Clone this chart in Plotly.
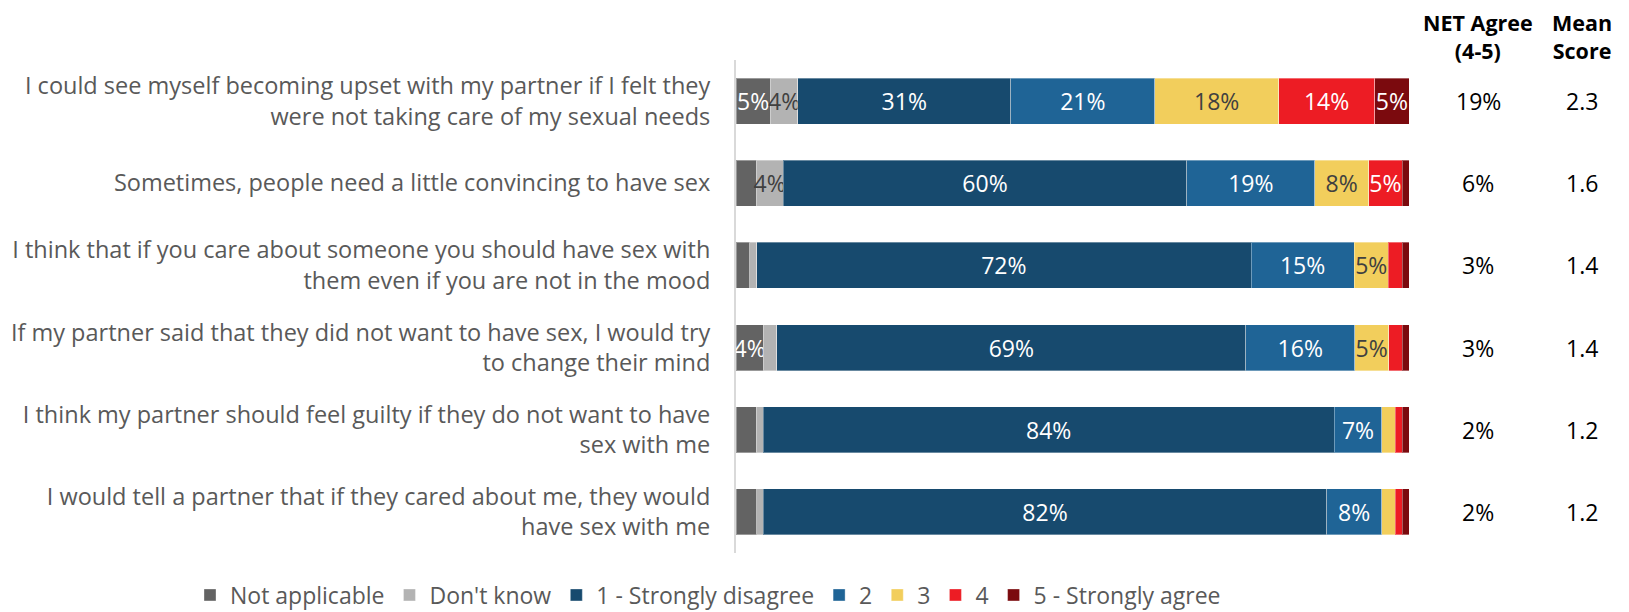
import plotly.graph_objects as go

categories = [
    "I could see myself becoming upset with my partner if I felt they<br>were not taking care of my sexual needs",
    "Sometimes, people need a little convincing to have sex",
    "I think that if you care about someone you should have sex with<br>them even if you are not in the mood",
    "If my partner said that they did not want to have sex, I would try<br>to change their mind",
    "I think my partner should feel guilty if they do not want to have<br>sex with me",
    "I would tell a partner that if they cared about me, they would<br>have sex with me",
]

series_names = ["Not applicable", "Don't know", "1 - Strongly disagree", "2", "3", "4", "5 - Strongly agree"]
not_applicable = [5, 3, 2, 4, 3, 3]
dont_know = [4, 4, 1, 2, 1, 1]
strongly_disagree = [31, 60, 72, 69, 84, 82]
two = [21, 19, 15, 16, 7, 8]
three = [18, 8, 5, 5, 2, 2]
four = [14, 5, 2, 2, 1, 1]
strongly_agree = [5, 1, 1, 1, 1, 1]

net_agree = ["19%", "6%", "3%", "3%", "2%", "2%"]
mean_score = ["2.3", "1.6", "1.4", "1.4", "1.2", "1.2"]

series_values = [not_applicable, dont_know, strongly_disagree, two, three, four, strongly_agree]
colors = ["#636363", "#b3b3b3", "#174a6e", "#1f6496", "#f2ce5c", "#ed1c24", "#7b0a0e"]
text_colors = ["#ffffff", "#404040", "#ffffff", "#ffffff", "#404040", "#ffffff", "#ffffff"]

FONT = "Open Sans"
fig = go.Figure()
for name, vals, col, tcol in zip(series_names, series_values, colors, text_colors):
    fig.add_trace(go.Bar(
        y=categories, x=vals, name=name, orientation="h",
        marker=dict(color=col, line=dict(color="rgba(255,255,255,0.35)", width=1)),
        text=[f"{v}%" if v >= 4 else "" for v in vals],
        textposition="inside", insidetextanchor="middle", textangle=0,
        textfont=dict(color=tcol, size=23, family=FONT),
        hoverinfo="skip",
    ))

# page body has an 8px margin, so figure coordinates are shifted by 8px
OFF = 8
W, H = 1629 - OFF, 612 - OFF
L, R, T, B = 736 - OFF, 1409 - OFF, 60 - OFF, 553 - OFF
fig.update_layout(
    width=W, height=H,
    barmode="stack", barnorm="percent", bargap=0.44,
    margin=dict(l=L, r=W - R, t=T, b=H - B, pad=0, autoexpand=False),
    plot_bgcolor="white", paper_bgcolor="white",
    font=dict(family=FONT, size=23, color="#595959"),
    uniformtext=dict(minsize=23, mode="show"),
    showlegend=True,
    legend=dict(orientation="h", xref="paper", yref="paper",
                x=(190 - OFF - L) / (R - L), xanchor="left",
                y=(B - (595 - OFF)) / (B - T), yanchor="middle",
                font=dict(size=23, color="#595959", family=FONT),
                traceorder="normal", itemwidth=30, tracegroupgap=0),
)
fig.update_xaxes(range=[0, 100], visible=False, fixedrange=True)
fig.update_yaxes(autorange="reversed", showline=True, linecolor="#d9d9d9", linewidth=2,
                 ticks="", ticklabelstandoff=19, showgrid=False, automargin=False,
                 tickfont=dict(size=23.5, color="#595959", family=FONT))

x_net = (1478 - OFF - L) / (R - L)
x_mean = (1582 - OFF - L) / (R - L)
for cat, n, m in zip(categories, net_agree, mean_score):
    fig.add_annotation(x=x_net, xref="paper", y=cat, yref="y", text=n, showarrow=False,
                       xanchor="center", font=dict(size=23, color="#000000", family=FONT))
    fig.add_annotation(x=x_mean, xref="paper", y=cat, yref="y", text=m, showarrow=False,
                       xanchor="center", font=dict(size=23, color="#000000", family=FONT))
y_head = 1 + (T - (36 - OFF)) / (B - T)
fig.add_annotation(x=x_net, xref="paper", y=y_head, yref="paper", text="<b>NET Agree<br>(4-5)</b>",
                   showarrow=False, xanchor="center", yanchor="middle", borderpad=0,
                   font=dict(size=21.5, color="#000000", family=FONT))
fig.add_annotation(x=x_mean, xref="paper", y=y_head, yref="paper", text="<b>Mean<br>Score</b>",
                   showarrow=False, xanchor="center", yanchor="middle", borderpad=0,
                   font=dict(size=21.5, color="#000000", family=FONT))

fig.write_html("out.html")
